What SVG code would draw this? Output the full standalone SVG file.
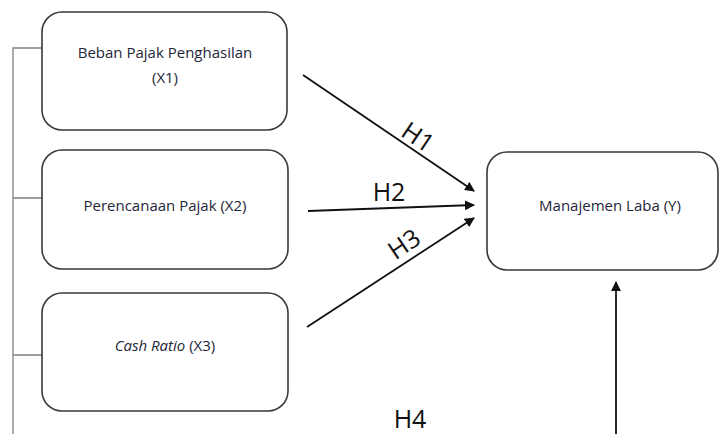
<svg xmlns="http://www.w3.org/2000/svg" width="720" height="434" viewBox="0 0 720 434">
<style>
.box{fill:#fff;stroke:#3a3a3a;stroke-width:1.6}
.t{font-family:"Open Sans","Liberation Sans",sans-serif;font-size:15px;fill:#1e2638;text-anchor:middle}
.h{font-family:"Open Sans","Liberation Sans",sans-serif;font-size:25px;fill:#111;text-anchor:middle}
.c{stroke:#111;stroke-width:1.8;fill:none}
.g{stroke:#808080;stroke-width:1.3;fill:none}
</style>
<defs>
<marker id="ah" viewBox="0 0 10 10" refX="9" refY="5" markerWidth="10" markerHeight="10" markerUnits="userSpaceOnUse" orient="auto">
<path d="M0,0 L10,5 L0,10 z" fill="#111"/>
</marker>
</defs>
<g id="connectors">
<path class="g" d="M42,48 H13 V434 M13,198 H42 M13,355 H42"/>
<line class="c" x1="303" y1="75" x2="474" y2="191" marker-end="url(#ah)"/>
<line class="c" x1="308" y1="211" x2="474" y2="205" marker-end="url(#ah)"/>
<line class="c" x1="307" y1="327" x2="474" y2="218" marker-end="url(#ah)"/>
<line class="c" x1="616" y1="434" x2="616" y2="282" marker-end="url(#ah)"/>
<text class="h" transform="translate(418,137) rotate(34)" dy="9">H1</text>
<text class="h" x="389" y="201">H2</text>
<text class="h" transform="translate(404,244) rotate(-34)" dy="9">H3</text>
<text class="h" x="410" y="428">H4</text>
</g>
<g id="x1">
<rect class="box" x="42" y="12" width="245" height="118" rx="20"/>
<text class="t" x="165" y="58">Beban Pajak Penghasilan</text>
<text class="t" x="165" y="83">(X1)</text>
</g>
<g id="x2">
<rect class="box" x="42" y="150" width="246" height="119" rx="20"/>
<text class="t" x="165" y="211">Perencanaan Pajak (X2)</text>
</g>
<g id="x3">
<rect class="box" x="42" y="293" width="246" height="118" rx="20"/>
<text class="t" x="165" y="351"><tspan font-style="italic">Cash Ratio</tspan> (X3)</text>
</g>
<g id="y">
<rect class="box" x="487" y="152" width="231" height="118" rx="20"/>
<text class="t" x="610" y="211">Manajemen Laba (Y)</text>
</g>
</svg>
